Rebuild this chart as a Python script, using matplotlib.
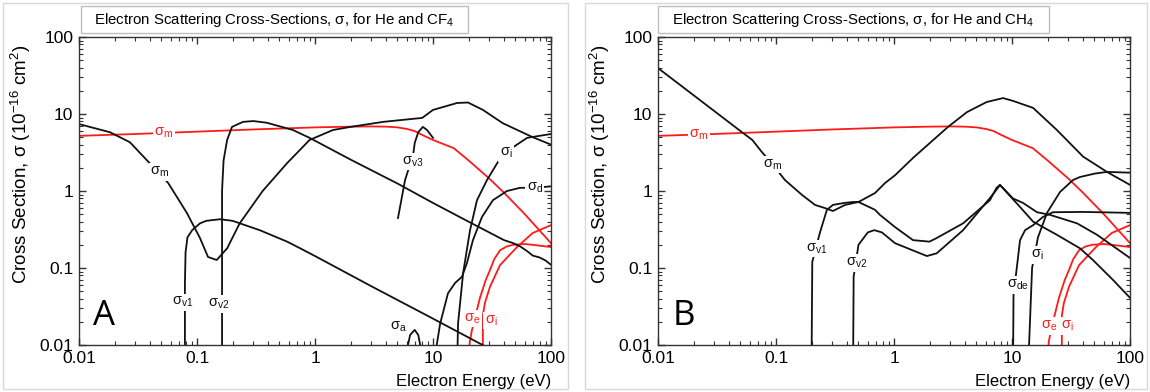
import matplotlib
matplotlib.use('Agg')
import matplotlib.pyplot as plt
from matplotlib.patches import Rectangle
from matplotlib.ticker import NullFormatter

plt.rcParams['font.family'] = ['Liberation Sans', 'DejaVu Sans']
plt.rcParams['mathtext.fontset'] = 'custom'
plt.rcParams['mathtext.rm'] = 'Liberation Sans'
plt.rcParams['mathtext.it'] = 'Liberation Sans'
plt.rcParams['mathtext.default'] = 'regular'

# axis ticks
tick_vals = [0.01, 0.1, 1, 10, 100]
tick_text = ['0.01', '0.1', '1', '10', '100']

# He (red) - same in both panels
he_m_e = [0.01, 0.03, 0.1, 0.3, 1, 2, 3, 4, 5, 6, 7, 8.2, 10, 15, 20, 30, 40, 60, 100]
he_m_s = [5.2, 5.5, 5.9, 6.3, 6.7, 6.85, 6.9, 6.85, 6.7, 6.4, 6.0, 5.3, 4.6, 3.6, 2.5, 1.45, 0.95, 0.5, 0.21]
he_e_e = [19.7, 20.5, 21.4, 25, 28, 30.4, 33, 37, 42, 47.6, 60, 70, 100]
he_e_s = [0.005, 0.011, 0.0157, 0.041, 0.07, 0.094, 0.13, 0.17, 0.19, 0.2, 0.205, 0.2, 0.187]
he_i_e = [26.4, 26.5, 27.5, 30.4, 37, 51.5, 70, 100]
he_i_s = [0.005, 0.0245, 0.035, 0.057, 0.109, 0.187, 0.285, 0.36]

# CF4 (black)
cf4_m_e = [0.01, 0.0183, 0.027, 0.0377, 0.057, 0.082, 0.106, 0.124, 0.147, 0.18, 0.23,
           0.36, 0.58, 0.9, 1.42, 2.0, 3.77, 8.1, 10, 16, 19.8, 26.5, 39, 70, 100]
cf4_m_s = [7.4, 5.8, 4.3, 2.5, 1.27, 0.52, 0.245, 0.139, 0.127, 0.18, 0.38,
           1.0, 2.3, 4.6, 6.2, 6.8, 7.9, 8.9, 11.3, 13.9, 14.1, 11.3, 7.6, 5.0, 4.0]
cf4_v1_e = [0.079, 0.079, 0.08, 0.083, 0.091, 0.106, 0.12, 0.157, 0.2, 0.34, 0.58, 0.75, 1, 3, 10, 30]
cf4_v1_s = [0.005, 0.063, 0.16, 0.25, 0.31, 0.38, 0.41, 0.43, 0.41, 0.31, 0.22, 0.18, 0.143, 0.058, 0.022, 0.009]
cf4_v2_e = [0.163, 0.163, 0.168, 0.18, 0.198, 0.245, 0.3, 0.39, 0.65, 0.9, 2, 5, 10, 20, 40,
            48, 55, 63, 70, 80, 90, 100]
cf4_v2_s = [0.005, 1.0, 2.5, 4.6, 6.8, 7.9, 8.1, 7.7, 6.2, 4.9, 2.56, 1.25, 0.7, 0.4, 0.23,
            0.21, 0.19, 0.165, 0.145, 0.137, 0.125, 0.11]
cf4_v3_e = [5.05, 5.8, 6.8, 7.0, 7.5, 8.2, 8.9, 10]
cf4_v3_s = [0.446, 1.39, 3.0, 4.2, 5.8, 6.8, 6.2, 4.9]
cf4_i_e = [16, 16.3, 18, 20.6, 23.6, 28.7, 35.6, 47.7, 62.7, 100]
cf4_i_s = [0.005, 0.019, 0.086, 0.31, 0.76, 1.39, 2.4, 3.7, 4.9, 5.5]
cf4_d_e = [10, 11.5, 13.4, 15.4, 17.6, 19.4, 21.8, 26, 32.2, 42.4, 54.6, 73, 100]
cf4_d_s = [0.005, 0.019, 0.047, 0.064, 0.077, 0.116, 0.23, 0.46, 0.76, 1.0, 1.1, 1.1, 1.15]
cf4_a_e = [6.0, 6.05, 6.4, 7.0, 7.5, 7.9, 8.0]
cf4_a_s = [0.007, 0.009, 0.0135, 0.0157, 0.0135, 0.009, 0.007]

# CH4 (black)
ch4_m_e = [0.01, 0.0515, 0.063, 0.076, 0.094, 0.119, 0.166, 0.214, 0.26, 0.304, 0.385, 0.5,
           0.69, 0.84, 1.02, 1.45, 2.87, 4.16, 6.1, 8.4, 10.2, 15.1, 24, 40, 63.8, 100]
ch4_m_s = [39.5, 5.8, 4.6, 3.2, 2.2, 1.39, 0.89, 0.66, 0.6, 0.55, 0.66, 0.72,
           0.94, 1.27, 1.6, 2.69, 6.8, 10.6, 14.3, 16.1, 14.8, 12, 6.2, 2.8, 1.77, 1.2]
ch4_v1_e = [0.2, 0.203, 0.236, 0.27, 0.304, 0.38, 0.45, 0.5, 0.69, 0.76, 1.02, 1.45, 2.0, 2.3,
            3.85, 6.5, 7.4, 7.9, 10.2, 12.4, 16.3, 21, 35.6, 52.5, 100]
ch4_v1_s = [0.005, 0.12, 0.29, 0.57, 0.66, 0.7, 0.72, 0.72, 0.57, 0.49, 0.34, 0.23, 0.22, 0.245,
            0.38, 0.76, 1.1, 1.2, 0.8, 0.7, 0.53, 0.49, 0.38, 0.27, 0.135]
ch4_v2_e = [0.45, 0.455, 0.5, 0.6, 0.68, 0.79, 1.02, 1.9, 2.3, 3.85, 6.5, 7.6, 7.9,
            11.7, 15.1, 24, 37.7, 48.5, 71.8, 100]
ch4_v2_s = [0.005, 0.077, 0.2, 0.29, 0.31, 0.29, 0.21, 0.143, 0.155, 0.31, 0.81, 1.1, 1.2,
            0.62, 0.4, 0.27, 0.18, 0.127, 0.07, 0.041]
ch4_de_e = [10.2, 10.3, 11, 11.7, 12.9, 15.1, 18.3, 22.2, 40, 100]
ch4_de_s = [0.005, 0.045, 0.103, 0.23, 0.31, 0.36, 0.46, 0.53, 0.535, 0.52]
ch4_i_e = [13.7, 14.8, 16.6, 19.8, 25.5, 32.9, 37.7, 50, 63.8, 100]
ch4_i_s = [0.005, 0.1, 0.25, 0.52, 0.97, 1.39, 1.52, 1.68, 1.77, 1.73]

RED = '#ff1a1a'
BLK = '#111111'

W, H = 1150, 392
fig = plt.figure(figsize=(W / 100, H / 100), dpi=100)


def frame(x0, y0, x1, y1, color, lw=1.0):
    # rectangle in image pixel coords (y from top)
    r = Rectangle((x0 / W, 1 - y1 / H), (x1 - x0) / W, (y1 - y0) / H,
                  transform=fig.transFigure, fill=True, facecolor='white',
                  edgecolor=color, lw=lw, zorder=0)
    fig.add_artist(r)


def label(ax, x, y, sub, color):
    ax.text(x, y, '$σ_{%s}$' % sub, color=color, fontsize=10.5, ha='center', va='center',
            zorder=5, bbox=dict(facecolor='white', edgecolor='none', pad=1.0))


def setup(ax, title, letter, tx0, tx1):
    ax.set_xscale('log')
    ax.set_yscale('log')
    ax.set_xlim(0.01, 100)
    ax.set_ylim(0.01, 100)
    ax.set_xticks(tick_vals)
    ax.set_xticklabels(tick_text)
    ax.set_yticks(tick_vals)
    ax.set_yticklabels(tick_text)
    ax.xaxis.set_minor_formatter(NullFormatter())
    ax.yaxis.set_minor_formatter(NullFormatter())
    ax.tick_params(which='both', direction='in', top=True, right=True, colors='#333333',
                   labelcolor='black', labelsize=12.5, pad=4)
    ax.tick_params(which='major', length=5, width=1)
    ax.tick_params(which='minor', length=3, width=0.8)
    for s in ax.spines.values():
        s.set_color('#333333')
        s.set_linewidth(1.0)
    ax.set_ylabel('Cross Section, σ (10$^{-16}$ cm$^{2}$)', fontsize=13.5)
    ax.yaxis.set_label_coords(-0.098, 0.585)
    ax.set_xlabel('Electron Energy (eV)', fontsize=12, ha='right')
    ax.xaxis.set_label_coords(1.0, -0.095)
    ax.text(0.03, 0.065, letter, transform=ax.transAxes, fontsize=25,
            family='Open Sans', color='black')
    # title box
    frame(tx0, 6, tx1, 33, '#bfbfbf')
    fig.text((tx0 + tx1) / 2 / W, 1 - 20 / H, title, ha='center', va='center', fontsize=10.8)


# panel frames
frame(3, 3, 568, 389, '#d8d8d8')
frame(585, 3, 1147, 389, '#d8d8d8')

axA = fig.add_axes([79 / W, 47 / H, 472 / W, 308 / H])
axB = fig.add_axes([658 / W, 47 / H, 472 / W, 308 / H])

lw = 1.3
for ax in (axA, axB):
    ax.plot(he_m_e, he_m_s, color=RED, lw=lw)
    ax.plot(he_e_e, he_e_s, color=RED, lw=lw)
    ax.plot(he_i_e, he_i_s, color=RED, lw=lw)

for e, s in [(cf4_m_e, cf4_m_s), (cf4_v1_e, cf4_v1_s), (cf4_v2_e, cf4_v2_s), (cf4_v3_e, cf4_v3_s),
             (cf4_i_e, cf4_i_s), (cf4_d_e, cf4_d_s), (cf4_a_e, cf4_a_s)]:
    axA.plot(e, s, color=BLK, lw=lw)

for e, s in [(ch4_m_e, ch4_m_s), (ch4_v1_e, ch4_v1_s), (ch4_v2_e, ch4_v2_s),
             (ch4_de_e, ch4_de_s), (ch4_i_e, ch4_i_s)]:
    axB.plot(e, s, color=BLK, lw=lw)

setup(axA, 'Electron Scattering Cross-Sections, σ, for He and CF$_4$', 'A', 81, 468)
setup(axB, 'Electron Scattering Cross-Sections, σ, for He and CH$_4$', 'B', 658, 1049)

# curve labels
label(axA, 0.0525, 5.7, 'm', RED)
label(axA, 0.0486, 1.77, 'm', BLK)
label(axA, 0.076, 0.036, 'v1', BLK)
label(axA, 0.153, 0.034, 'v2', BLK)
label(axA, 6.8, 2.4, 'v3', BLK)
label(axA, 41.6, 3.1, 'i', BLK)
label(axA, 73, 1.09, 'd', BLK)
label(axA, 5.05, 0.017, 'a', BLK)
label(axA, 21.4, 0.022, 'e', RED)
label(axA, 31, 0.0206, 'i', RED)

label(axB, 0.0222, 5.3, 'm', RED)
label(axB, 0.094, 2.2, 'm', BLK)
label(axB, 0.222, 0.18, 'v1', BLK)
label(axB, 0.485, 0.116, 'v2', BLK)
label(axB, 11.2, 0.06, 'de', BLK)
label(axB, 16.3, 0.148, 'i', BLK)
label(axB, 20.6, 0.0177, 'e', RED)
label(axB, 29.2, 0.0177, 'i', RED)

fig.savefig('out.png', dpi=100)
